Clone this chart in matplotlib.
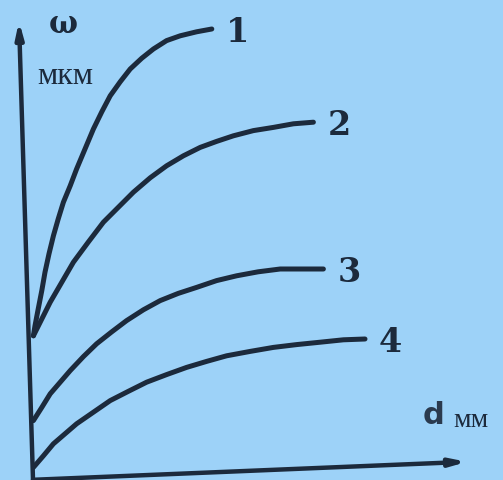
import matplotlib.pyplot as plt

# d, mm  /  omega, um  (arbitrary scale)
d1 = [0.01, 0.05, 0.13, 0.22, 0.30, 0.40, 0.51, 0.63, 0.76, 0.93, 1.09, 1.30,
      1.51, 1.72, 1.93, 2.18, 2.43, 2.72, 3.01, 3.34, 3.68, 4.09, 4.47]
w1 = [3.58, 3.83, 4.25, 4.71, 5.17, 5.63, 6.08, 6.50, 6.92, 7.33, 7.75, 8.25,
      8.75, 9.18, 9.58, 9.93, 10.25, 10.52, 10.75, 10.96, 11.08, 11.18, 11.25]

d2 = [0.01, 0.22, 0.43, 0.72, 1.01, 1.38, 1.76, 2.13, 2.51, 2.93, 3.34, 3.76,
      4.18, 4.59, 5.01, 5.51, 6.01, 6.51, 7.01]
w2 = [3.58, 4.00, 4.42, 4.92, 5.42, 5.92, 6.42, 6.79, 7.17, 7.53, 7.83, 8.08,
      8.29, 8.44, 8.58, 8.71, 8.79, 8.88, 8.92]

d3 = [0.01, 0.22, 0.43, 0.68, 0.93, 1.26, 1.59, 1.97, 2.34, 2.76, 3.18, 3.63,
      4.09, 4.59, 5.09, 5.63, 6.18, 6.72, 7.26]
w3 = [1.46, 1.79, 2.13, 2.42, 2.71, 3.06, 3.38, 3.68, 3.96, 4.23, 4.46, 4.64,
      4.79, 4.96, 5.08, 5.18, 5.25, 5.25, 5.25]

d4 = [0.01, 0.26, 0.51, 0.80, 1.09, 1.51, 1.93, 2.38, 2.84, 3.34, 3.84, 4.34,
      4.84, 5.43, 6.01, 6.59, 7.18, 7.76, 8.30]
w4 = [0.29, 0.58, 0.88, 1.13, 1.38, 1.67, 1.96, 2.19, 2.42, 2.61, 2.79, 2.94,
      3.08, 3.19, 3.29, 3.36, 3.42, 3.48, 3.50]

curves = [(d1, w1, "1"), (d2, w2, "2"), (d3, w3, "3"), (d4, w4, "4")]

bg = "#9dd2f8"
ink = "#1c2a3c"

fig = plt.figure(figsize=(5.03, 4.81), dpi=100, facecolor=bg)
ax = fig.add_axes([0, 0, 1, 1])
ax.set_facecolor(bg)
ax.set_xlim(-0.825, 11.75)
ax.set_ylim(-0.025, 12.0)
ax.axis("off")

for d, w, name in curves:
    ax.plot(d, w, color=ink, lw=3.6, solid_capstyle="round", solid_joinstyle="round")
    ax.text(d[-1] + 0.35, w[-1] - 0.05, name, fontsize=24, family="DejaVu Serif",
            fontweight="bold", color=ink, ha="left", va="center")

# hand-drawn looking axes arrows
arrow = dict(arrowstyle="-|>,head_length=0.9,head_width=0.22", color=ink, lw=3.2,
             shrinkA=0, shrinkB=0)
ax.annotate("", xy=(-0.35, 11.45), xytext=(0, -0.02), arrowprops=arrow)
ax.annotate("", xy=(10.85, 0.43), xytext=(0, -0.02), arrowprops=arrow)

ax.text(0.75, 11.38, "ω", fontsize=22, family="DejaVu Serif", fontweight="bold",
        color=ink, ha="center", va="center")
ax.text(0.8, 10.1, "мкм", fontsize=23, family="Liberation Serif", color=ink,
        ha="center", va="center")
ax.text(10.0, 1.62, "d", fontsize=22, family="DejaVu Sans", fontweight="bold",
        color="#2a3a4e", ha="center", va="center")
ax.text(10.5, 1.48, "мм", fontsize=20, family="Liberation Serif", color=ink,
        ha="left", va="center")

fig.savefig("out.png", dpi=100, facecolor=bg)
